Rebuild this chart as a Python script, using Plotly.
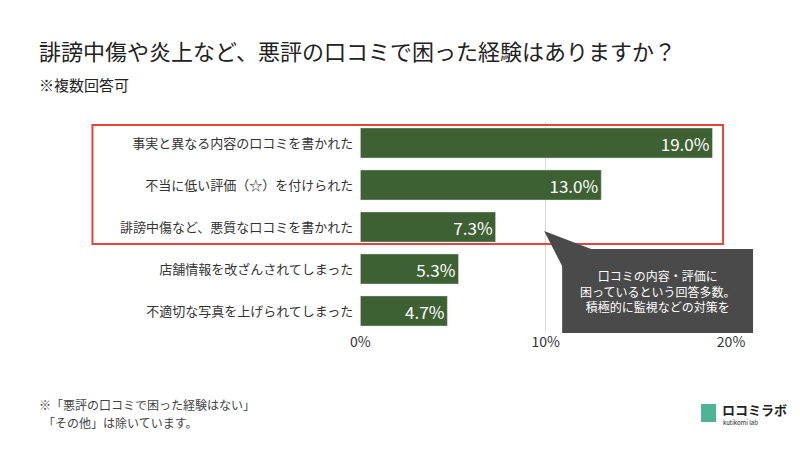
import plotly.graph_objects as go

categories = ["事実と異なる内容の口コミを書かれた", "不当に低い評価（☆）を付けられた",
              "誹謗中傷など、悪質な口コミを書かれた", "店舗情報を改ざんされてしまった",
              "不適切な写真を上げられてしまった"]
values = [19.0, 13.0, 7.3, 5.3, 4.7]
tick_vals = [0, 10, 20]
tick_text = ["0%", "10%", "20%"]

W, H = 784, 434
# map target-picture pixels to paper coords (measured from the rendered page)
def px(x): return (x - 16.5) / 0.97 / W
def py(y): return 1 - (y - 8) / H

fig = go.Figure(go.Bar(
    x=values, y=categories, orientation="h",
    marker_color="#3e6133", width=0.72,
    text=[f"{v:.1f}%" for v in values], textposition="inside",
    insidetextanchor="end", textfont=dict(color="white", size=19),
))

fig.update_layout(
    width=W, height=H, margin=dict(l=0, r=0, t=0, b=0),
    plot_bgcolor="white", paper_bgcolor="white",
    font=dict(family="Noto Sans CJK JP", color="#333"),
    showlegend=False,
    xaxis=dict(domain=[px(359), px(730)], range=[0, 20], tickvals=tick_vals,
               ticktext=tick_text, showgrid=True, gridcolor="#dddddd",
               zeroline=False, tickfont=dict(size=14, color="#333"), fixedrange=True),
    yaxis=dict(domain=[py(332), py(122)], autorange="reversed",
               categoryorder="array", categoryarray=categories,
               tickfont=dict(size=13, color="#333"), ticks="", ticklabelstandoff=6),
)

shapes = [
    dict(type="rect", xref="paper", yref="paper", x0=px(91), x1=px(722), y0=py(244), y1=py(125),
         line=dict(color="#e0463a", width=2)),
    dict(type="path", xref="paper", yref="paper",
         path=f"M {px(543)} {py(231)} L {px(590)} {py(249)} L {px(562)} {py(268)} Z",
         fillcolor="#4a4a4a", line_width=0),
    dict(type="rect", xref="paper", yref="paper", x0=px(561), x1=px(752), y0=py(333), y1=py(249),
         fillcolor="#4a4a4a", line_width=0),
    dict(type="rect", xref="paper", yref="paper", x0=px(700), x1=px(715), y0=py(422), y1=py(404),
         fillcolor="#4db394", line_width=0),
]
fig.update_layout(shapes=shapes)

ann = [
    dict(x=px(36), y=py(50), text="誹謗中傷や炎上など、悪評の口コミで困った経験はありますか？",
         font=dict(size=22, color="#222")),
    dict(x=px(36), y=py(84), text="※複数回答可", font=dict(size=15, color="#222")),
    dict(x=px(656), y=py(291), xanchor="center",
         text="口コミの内容・評価に<br>困っているという回答多数。<br>積極的に監視などの対策を",
         font=dict(size=12, color="white"), align="center"),
    dict(x=px(36), y=py(404), text="※「悪評の口コミで困った経験はない」",
         font=dict(size=12, color="#444")),
    dict(x=px(40), y=py(422), text="「その他」は除いています。",
         font=dict(size=12, color="#444")),
    dict(x=px(719), y=py(409), text="<b>ロコミラボ</b>", font=dict(size=13, color="#222")),
    dict(x=px(720), y=py(422), text="kutikomi lab", font=dict(size=6, color="#222")),
]
for a in ann:
    a.setdefault("xanchor", "left")
    fig.add_annotation(xref="paper", yref="paper", yanchor="middle", showarrow=False, **a)

fig.write_html("out.html")
